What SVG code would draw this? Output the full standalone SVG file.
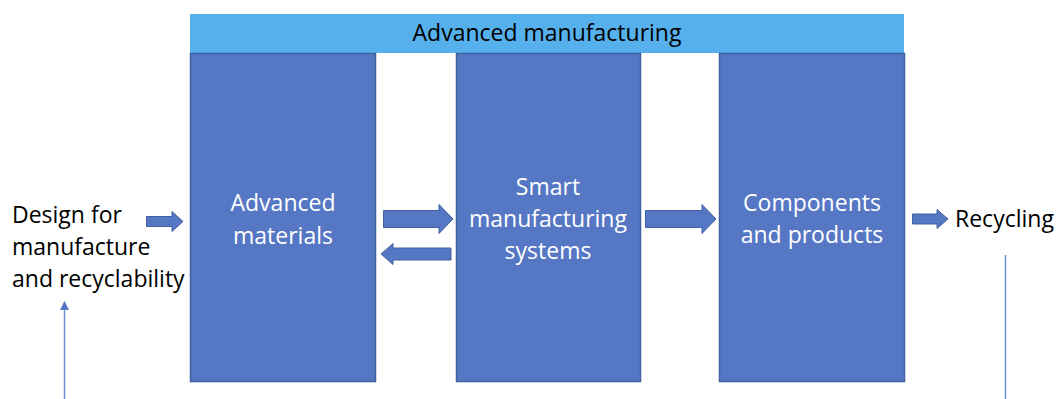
<svg xmlns="http://www.w3.org/2000/svg" width="1057" height="399" viewBox="0 0 1057 399">
<defs>
<style>
.box{fill:#5677C4;stroke:#40609F;stroke-width:1.5}
.arr{fill:#5677C4;stroke:#40609F;stroke-width:1}
.wt{font-family:"Open Sans","Liberation Sans",sans-serif;font-size:23px;fill:#FFFFFF;text-anchor:middle}
.bt{font-family:"Open Sans","Liberation Sans",sans-serif;font-size:23px;fill:#000000}
.ln{stroke:#6E8FD6;stroke-width:1.5;fill:none}
</style>
<marker id="ah" viewBox="0 0 10 10" refX="9" refY="5" markerWidth="7" markerHeight="6" orient="auto" markerUnits="strokeWidth">
<path d="M0,0 L10,5 L0,10 z" fill="#5677C4"/>
</marker>
</defs>
<rect width="1057" height="399" fill="#FFFFFF"/>
<g id="advanced-manufacturing">
<rect x="190" y="14" width="714" height="39" fill="#55B0EC"/>
<text class="bt" x="547" y="41" text-anchor="middle">Advanced manufacturing</text>
</g>
<g id="advanced-materials">
<rect class="box" x="190.5" y="53.5" width="185" height="328"/>
<text class="wt" x="283" y="211">Advanced</text>
<text class="wt" x="283" y="244">materials</text>
</g>
<g id="smart-manufacturing">
<rect class="box" x="456.5" y="53.5" width="184" height="328"/>
<text class="wt" x="548" y="195">Smart</text>
<text class="wt" x="548" y="227">manufacturing</text>
<text class="wt" x="548" y="259">systems</text>
</g>
<g id="components-products">
<rect class="box" x="719.5" y="53.5" width="185" height="328"/>
<text class="wt" x="812" y="211">Components</text>
<text class="wt" x="812" y="243">and products</text>
</g>
<g id="design">
<text class="bt" x="12" y="223">Design for</text>
<text class="bt" x="12" y="255">manufacture</text>
<text class="bt" x="12" y="287">and recyclability</text>
</g>
<g id="recycling">
<text class="bt" x="955" y="227">Recycling</text>
</g>
<g id="connectors">
<path class="arr" d="M146.5,216.5 H172 V211.5 L183,221.5 L172,231.5 V226.5 H146.5 Z"/>
<path class="arr" d="M383.5,210.5 H439 V204.5 L453,219 L439,233.5 V227.5 H383.5 Z"/>
<path class="arr" d="M451,248 H393 V243.5 L381,254 L393,264.5 V260 H451 Z"/>
<path class="arr" d="M645.5,210.5 H702 V204.5 L716,219 L702,233.5 V227.5 H645.5 Z"/>
<path class="arr" d="M912.5,214 H937 V209.5 L948,219 L937,228.5 V224 H912.5 Z"/>
<line class="ln" x1="64.5" y1="399" x2="64.5" y2="302" marker-end="url(#ah)"/>
<line class="ln" x1="1005.5" y1="255" x2="1005.5" y2="399"/>
</g>
</svg>
